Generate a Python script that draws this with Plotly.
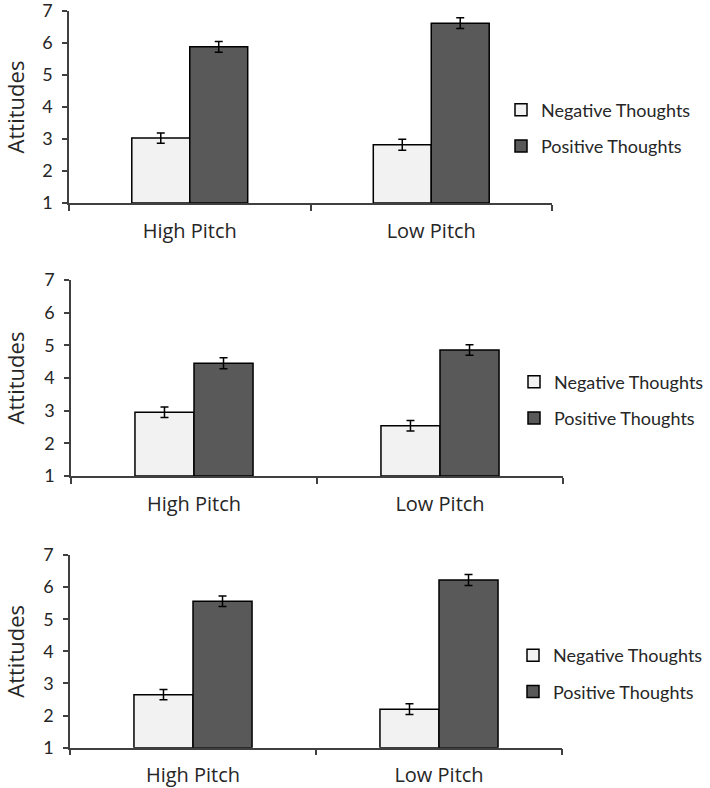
import plotly.graph_objects as go

categories = ["High Pitch", "Low Pitch"]
series_names = ["Negative Thoughts", "Positive Thoughts"]

# Panel values (top, middle, bottom)
p1_negative = [3.03, 2.82]
p1_positive = [5.88, 6.62]
p1_neg_err = [0.16, 0.17]
p1_pos_err = [0.17, 0.17]

p2_negative = [2.95, 2.54]
p2_positive = [4.45, 4.86]
p2_neg_err = [0.16, 0.16]
p2_pos_err = [0.17, 0.16]

p3_negative = [2.65, 2.20]
p3_positive = [5.56, 6.22]
p3_neg_err = [0.16, 0.17]
p3_pos_err = [0.16, 0.17]

y_ticks = [1, 2, 3, 4, 5, 6, 7]

W, H = 710, 788
neg_color = "#f2f2f2"
pos_color = "#595959"
axis_color = "#404040"
text_color = "#262626"
tick_font = dict(family="Lato, Open Sans, sans-serif", size=18, color=text_color)
cat_font = dict(family="Open Sans, sans-serif", size=20, color=text_color)
title_font = dict(family="Open Sans, sans-serif", size=22, color=text_color)
legend_font = dict(family="Lato, Open Sans, sans-serif", size=18, color=text_color)

panels = [
    (p1_negative, p1_positive, p1_neg_err, p1_pos_err, (69, 552), (11, 203), (501, 128)),
    (p2_negative, p2_positive, p2_neg_err, p2_pos_err, (71, 563), (280, 476), (514, 400)),
    (p3_negative, p3_positive, p3_neg_err, p3_pos_err, (70, 562), (555, 747.7), (513, 673.5)),
]

fig = go.Figure()
layout = {}
for i, (neg, pos, nerr, perr, (x0, x1), (ytop, ybot), (lx, ly)) in enumerate(panels):
    n = i + 1
    xa = "x" if n == 1 else f"x{n}"
    ya = "y" if n == 1 else f"y{n}"
    lg = "legend" if n == 1 else f"legend{n}"
    for name, vals, errs, color in [
        (series_names[0], neg, nerr, neg_color),
        (series_names[1], pos, perr, pos_color),
    ]:
        fig.add_trace(go.Bar(
            x=categories, y=[v - 1 for v in vals], base=1,
            name=name, xaxis=xa, yaxis=ya, legend=lg, legendgroup=f"{lg}-{name}",
            marker=dict(color=color, line=dict(color="#000000", width=1.5)),
            error_y=dict(type="data", array=errs, color="#000000", thickness=1.5, width=4),
            hoverinfo="skip",
        ))
    xkey = "xaxis" if n == 1 else f"xaxis{n}"
    ykey = "yaxis" if n == 1 else f"yaxis{n}"
    layout[xkey] = dict(
        domain=[x0 / W, x1 / W], anchor=ya, type="category", automargin=False,
        showline=True, linecolor=axis_color, linewidth=1.5,
        ticks="outside", tickson="boundaries", ticklen=6, tickcolor=axis_color, tickwidth=1.5,
        tickfont=cat_font, showgrid=False, zeroline=False, ticklabelstandoff=9,
    )
    layout[ykey] = dict(
        domain=[1 - ybot / H, 1 - ytop / H], anchor=xa, range=[1, 7], automargin=False,
        tickvals=y_ticks, ticktext=[str(t) for t in y_ticks],
        showline=True, linecolor=axis_color, linewidth=1.5,
        ticks="outside", ticklen=5, tickcolor=axis_color, tickwidth=1.5,
        tickfont=tick_font, showgrid=False, zeroline=False, ticklabelstandoff=6,
        ticklabeloverflow="allow",
        title=dict(text="Attitudes", font=title_font, standoff=17),
    )
    layout[lg] = dict(
        x=lx / W, y=1 - ly / H, xanchor="left", yanchor="middle",
        font=legend_font, tracegroupgap=10, bgcolor="rgba(0,0,0,0)",
        traceorder="grouped",
    )

fig.update_layout(
    width=W, height=H, margin=dict(l=0, r=0, t=0, b=0, pad=0, autoexpand=False),
    paper_bgcolor="white", plot_bgcolor="white",
    barmode="group", bargap=0.52, bargroupgap=0,
    showlegend=True,
    **layout,
)

fig.write_html(
    "out.html",
    config={"displayModeBar": False},
    post_script="document.body.style.margin='0';document.body.style.overflow='hidden';",
)
